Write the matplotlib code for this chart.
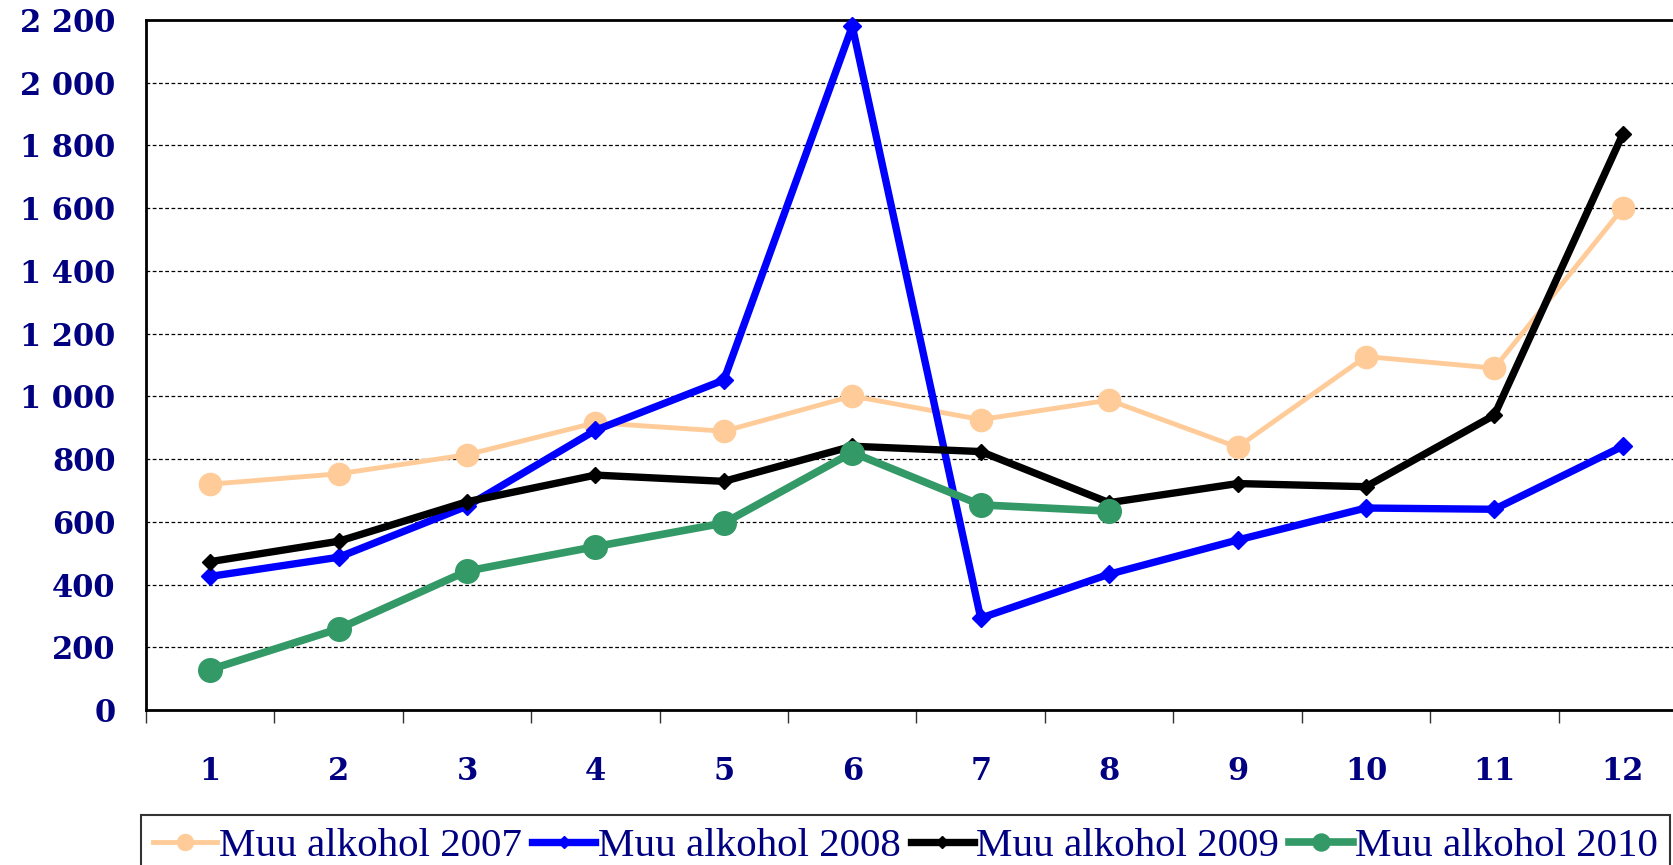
import numpy as np
import matplotlib.pyplot as plt
from matplotlib.ticker import FixedLocator

months = list(range(1, 13))
tick_labels = [str(m) for m in months]

muu_2007 = [720, 753, 814, 916, 889, 1001, 926, 988, 838, 1127, 1090, 1600]
muu_2008 = [426, 487, 650, 892, 1052, 2180, 293, 433, 542, 644, 640, 841]
muu_2009 = [473, 538, 664, 749, 729, 841, 824, 661, 722, 712, 940, 1836]
muu_2010 = [129, 259, 443, 521, 596, 821, 654, 634]

y_ticks = [0, 200, 400, 600, 800, 1000, 1200, 1400, 1600, 1800, 2000, 2200]
y_labels = ['0', '200', '400', '600', '800', '1 000', '1 200', '1 400',
            '1 600', '1 800', '2 000', '2 200']

navy = '#000080'

fig = plt.figure(figsize=(16.73, 8.65), dpi=100)
W, H = 1673, 865
# plot area runs past the right edge like in the original screenshot
ax = fig.add_axes([146 / W, 1 - 710 / H, (1687 - 146) / W, (710 - 20) / H])

ax.plot(months, muu_2007, color='#FFCC99', lw=3.5, marker='o', ms=16,
        label='Muu alkohol 2007', zorder=3, clip_on=False)
ax.plot(months, muu_2008, color='#0000FF', lw=5.3, marker='D', ms=9,
        label='Muu alkohol 2008', zorder=4, clip_on=False)
ax.plot(months, muu_2009, color='black', lw=5.3, marker='D', ms=8,
        label='Muu alkohol 2009', zorder=5, clip_on=False)
ax.plot(months[:len(muu_2010)], muu_2010, color='#339966', lw=5.5, marker='o', ms=17,
        label='Muu alkohol 2010', zorder=6, clip_on=False)

ax.set_xlim(0.5, 12.5)
ax.set_ylim(0, 2200)

ax.set_yticks(y_ticks)
ax.set_yticklabels(y_labels, fontfamily='DejaVu Serif', fontweight='bold',
                   fontsize=22, color=navy)
ax.tick_params(axis='y', length=0, pad=22)

ax.set_xticks(months)
ax.set_xticklabels(tick_labels, fontfamily='DejaVu Serif', fontweight='bold',
                   fontsize=22, color=navy)
ax.tick_params(axis='x', which='major', length=0, pad=33)
ax.xaxis.set_minor_locator(FixedLocator(np.arange(0.5, 13, 1)))
ax.tick_params(axis='x', which='minor', length=9, width=1, direction='out', color='#333333')

for g in y_ticks[1:-1]:
    ax.axhline(g, color='black', lw=0.9, ls=(0, (3, 2)), zorder=1)

for s in ['left', 'top', 'bottom']:
    ax.spines[s].set_linewidth(2)
    ax.spines[s].set_color('black')
ax.spines['right'].set_visible(False)

leg = fig.legend(loc='upper left', bbox_to_anchor=(141 / W, 1 - 815 / H), ncol=4,
                 prop={'family': 'Liberation Serif', 'size': 29.5},
                 frameon=True, fancybox=False, edgecolor='black',
                 handlelength=1.55, handletextpad=0.05, columnspacing=0.25,
                 borderpad=0.3, borderaxespad=0, markerscale=0.72)
leg.get_frame().set_linewidth(1.5)
for t in leg.get_texts():
    t.set_color(navy)

fig.savefig('out.png', dpi=100)
